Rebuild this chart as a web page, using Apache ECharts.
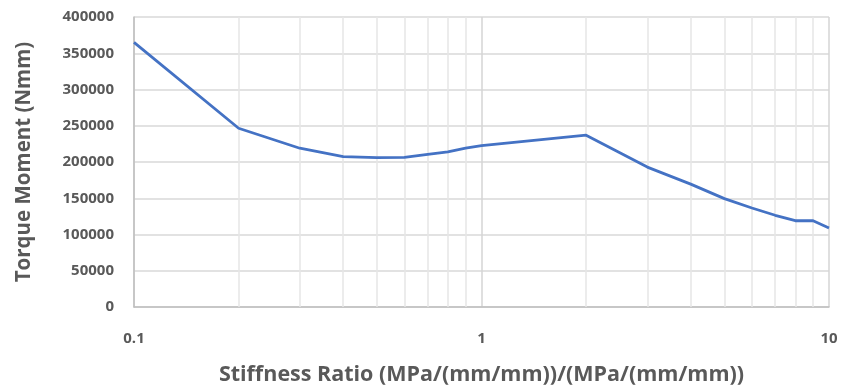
<!DOCTYPE html>
<html>
<head>
<meta charset="utf-8">
<script src="https://cdn.jsdelivr.net/npm/echarts@6/dist/echarts.min.js"></script>
<style>
  html, body { margin: 0; padding: 0; background: #fff; }
  #chart { width: 853px; height: 387px; }
</style>
</head>
<body>
<div id="chart"></div>
<script>
// 数据 - 刚度比与扭矩
const stiffnessRatio = [0.1, 0.2, 0.3, 0.4, 0.5, 0.6, 0.7, 0.8, 0.9, 1, 2, 3, 4, 5, 6, 7, 8, 9, 10];
const torqueMoment = [365000, 246500, 219000, 207500, 206000, 206300, 210500, 214000, 219000, 222500,
  237000, 193000, 169500, 149500, 136500, 126500, 119000, 119000, 109000];
// 对数轴的次刻度线位置
const minorTicks = [0.2, 0.3, 0.4, 0.5, 0.6, 0.7, 0.8, 0.9, 2, 3, 4, 5, 6, 7, 8, 9];
const yTicks = [0, 50000, 100000, 150000, 200000, 250000, 300000, 350000, 400000];

const textColor = '#595959';
const fontFamily = '"Open Sans", sans-serif';

const chart = echarts.init(document.getElementById('chart'));

const option = {
  animation: false,
  grid: { left: 134, right: 24, top: 17, bottom: 80, outerBoundsMode: 'none' },
  xAxis: {
    type: 'log',
    logBase: 10,
    min: 0.1,
    max: 10,
    name: 'Stiffness Ratio (MPa/(mm/mm))/(MPa/(mm/mm))',
    nameLocation: 'middle',
    nameGap: 57,
    nameTextStyle: { color: textColor, fontSize: 21.5, fontWeight: 'bold', fontFamily },
    axisLine: { show: true, lineStyle: { color: '#BFBFBF', width: 1.5 } },
    axisTick: { show: false },
    axisLabel: {
      color: textColor, fontSize: 15, fontWeight: 'bold', fontFamily, margin: 24,
      formatter: v => String(+v.toPrecision(3))
    },
    splitLine: { show: true, lineStyle: { color: '#D4D4D4', width: 1.5 } }
  },
  yAxis: {
    type: 'value',
    min: yTicks[0],
    max: yTicks[yTicks.length - 1],
    interval: 50000,
    name: 'Torque Moment (Nmm)',
    nameLocation: 'middle',
    nameGap: 99,
    nameTextStyle: { color: textColor, fontSize: 20.5, fontWeight: 'bold', fontFamily },
    axisLine: { show: true, lineStyle: { color: '#BFBFBF', width: 1.5 } },
    axisTick: { show: false },
    axisLabel: {
      color: textColor, fontSize: 15, fontWeight: 'bold', fontFamily, margin: 20,
      formatter: v => String(v)
    },
    splitLine: { show: true, lineStyle: { color: '#D9D9D9', width: 1.5 } }
  },
  series: [
    {
      // 次网格线（对数轴 2..9）
      type: 'line',
      data: [],
      silent: true,
      markLine: {
        silent: true,
        z: 1,
        symbol: ['none', 'none'],
        label: { show: false },
        lineStyle: { color: '#E6E6E6', width: 1.5, type: 'solid' },
        emphasis: { disabled: true },
        data: minorTicks.map(v => ({ xAxis: v }))
      }
    },
    {
      type: 'line',
      z: 3,
      data: stiffnessRatio.map((x, i) => [x, torqueMoment[i]]),
      showSymbol: false,
      lineStyle: { color: '#4472C4', width: 2.8 },
      itemStyle: { color: '#4472C4' }
    }
  ]
};

chart.setOption(option);
</script>
</body>
</html>
